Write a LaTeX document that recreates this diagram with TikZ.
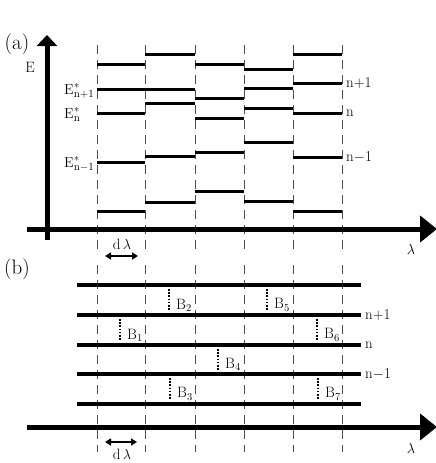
\documentclass[tikz,border=0pt]{standalone}
\usetikzlibrary{arrows.meta}

\tikzset{
  vaxis/.style={line width=5pt, -{Triangle[length=11pt,width=20pt]}},
  haxis/.style={line width=5pt, -{Triangle[length=17pt,width=26pt]}},
  level/.style={line width=3pt},
  band/.style={line width=4pt},
  guide/.style={line width=1pt, black!70, dash pattern=on 9pt off 6pt},
  gap/.style={line width=2.2pt, dash pattern=on 1.6pt off 1.6pt},
  width arrow/.style={line width=2pt, {Triangle[length=6pt,width=7pt]}-{Triangle[length=6pt,width=7pt]}},
  lbl/.style={font=\fontsize{15}{17}\selectfont, inner sep=0pt},
  part/.style={font=\fontsize{21}{23}\selectfont, inner sep=0pt}
}

\begin{document}
\begin{tikzpicture}[x=1pt, y=-1pt]
  \useasboundingbox (0,0) rectangle (436,463);

  % guide lines between the steps
  \foreach \x in {97,145,195,244,293,342} {
    \draw[guide] (\x,45) -- (\x,250);
    \draw[guide] (\x,265) -- (\x,452);
  }

  % (a) axes
  \draw[vaxis] (47,240) -- (47,35);
  \draw[haxis] (27,229) -- (437,229);

  % (a) levels in each step
  \foreach \xa/\xb/\ys in {97/145/{64,89,113,162,211},
                           145/195/{54,89,103,156,202},
                           195/244/{64,98,118,152,191},
                           244/293/{69,88,108,142,201},
                           293/342/{54,83,113,157,211}} {
    \foreach \y in \ys
      \draw[level] (\xa,\y) -- (\xb,\y);
  }

  \node[part] (pa) at (17,44) {(a)};
  \node[lbl] (eaxis) at (30,67) {E};
  \node[lbl, anchor=base west] (e1) at (64,94) {$\mathrm{E}^{*}_{\mathrm{n+1}}$};
  \node[lbl, anchor=base west] (e2) at (64,118) {$\mathrm{E}^{*}_{\mathrm{n}}$};
  \node[lbl, anchor=base west] (e3) at (64,167) {$\mathrm{E}^{*}_{\mathrm{n-1}}$};
  \node[lbl, anchor=west] (na1) at (346,83) {n+1};
  \node[lbl, anchor=west] (na2) at (346,113) {n};
  \node[lbl, anchor=west] (na3) at (346,157) {n$-$1};
  \node[lbl] (lama) at (411,249) {$\lambda$};

  \coordinate (da1) at (105,256);
  \coordinate (da2) at (138,256);
  \draw[width arrow] (da1) -- (da2);
  \node[lbl] (dla) at (122,244) {d$\,\lambda$};

  % (b) bands
  \foreach \y in {285,315,345,374,404}
    \draw[band] (77,\y) -- (361,\y);
  \draw[haxis] (27,427) -- (437,427);

  \node[part] (pb) at (17,269) {(b)};
  \node[lbl, anchor=west] (nb1) at (365,315) {n+1};
  \node[lbl, anchor=west] (nb2) at (365,345) {n};
  \node[lbl, anchor=west] (nb3) at (365,374) {n$-$1};
  \node[lbl] (lamb) at (411,448) {$\lambda$};

  % gaps between bands
  \foreach \x/\ya/\yb/\k in {120/319/341/1, 169/289/311/2, 170/378/400/3,
                             218/349/370/4, 267/289/311/5, 317/319/341/6,
                             318/378/400/7} {
    \coordinate (g\k a) at (\x,\ya);
    \coordinate (g\k b) at (\x,\yb);
    \draw[gap] (g\k a) -- (g\k b);
    \node[lbl, anchor=west] (b\k) at ([xshift=7pt, yshift=6pt]g\k b) {B\textsubscript{\k}};
  }

  \coordinate (db1) at (105,442);
  \coordinate (db2) at (137,442);
  \draw[width arrow] (db1) -- (db2);
  \node[lbl] (dlb) at (122,454) {d$\,\lambda$};
\end{tikzpicture}
\end{document}
